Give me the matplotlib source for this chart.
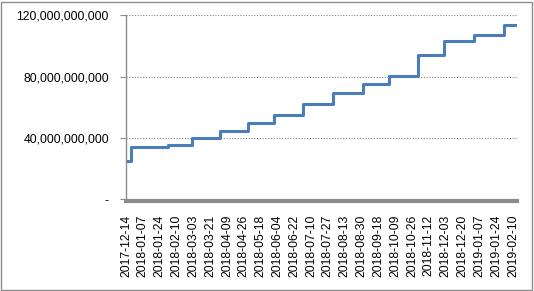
import numpy as np
import matplotlib
matplotlib.use("Agg")
import matplotlib.pyplot as plt
from matplotlib.patches import Rectangle
from matplotlib.ticker import FuncFormatter

# tick labels of the category axis
labels = ["2017-12-14", "2018-01-07", "2018-01-24", "2018-02-10", "2018-03-03",
          "2018-03-21", "2018-04-09", "2018-04-26", "2018-05-18", "2018-06-04",
          "2018-06-22", "2018-07-10", "2018-07-27", "2018-08-13", "2018-08-30",
          "2018-09-18", "2018-10-09", "2018-10-26", "2018-11-12", "2018-12-03",
          "2018-12-20", "2019-01-07", "2019-01-24", "2019-02-10"]

# dates where the value changes, and the value from that date on
step_dates = ["2017-12-14", "2017-12-21", "2018-02-01", "2018-03-01", "2018-04-01",
              "2018-05-01", "2018-06-01", "2018-07-01", "2018-08-01", "2018-09-01",
              "2018-10-01", "2018-11-01", "2018-12-01", "2019-01-01", "2019-02-01",
              "2019-02-14"]
step_values = [25.2e9, 34.3e9, 35.2e9, 40.2e9, 44.6e9,
               49.6e9, 55.0e9, 62.0e9, 69.4e9, 75.2e9,
               80.7e9, 94.2e9, 103.3e9, 107.4e9, 113.7e9,
               113.7e9]

# map dates to category positions (labels are evenly spaced)
lab_d = np.array(labels, dtype="datetime64[D]").astype(float)
d = np.array(step_dates, dtype="datetime64[D]").astype(float)
idx = np.arange(len(labels))
x = np.interp(d, lab_d, idx)
last_gap = lab_d[-1] - lab_d[-2]
x = np.where(d > lab_d[-1], idx[-1] + (d - lab_d[-1]) / last_gap, x)

plt.rcParams["font.family"] = ["Liberation Sans", "DejaVu Sans"]
plt.rcParams["font.size"] = 8.7

fig = plt.figure(figsize=(5.34, 2.91), dpi=100)
ax = fig.add_axes([0.236, 0.315, 0.732, 0.632])

# spines first: set_position resets the ticks
for s in ["top", "right"]:
    ax.spines[s].set_visible(False)
ax.spines["left"].set_color("#8c8c8c")
ax.spines["left"].set_linewidth(1)
ax.spines["bottom"].set_color("#8c8c8c")
ax.spines["bottom"].set_linewidth(3)
ax.spines["bottom"].set_position(("outward", 1.5))

ax.step(x, step_values, where="post", color="#4a7ebb", lw=2.2)

ax.set_xlim(0, x[-1])
ax.set_ylim(0, 120e9)
ax.set_yticks([0, 40e9, 80e9, 120e9])
ax.yaxis.set_major_formatter(FuncFormatter(lambda v, p: "-" if v == 0 else f"{v:,.0f}"))
ax.set_xticks(idx)
ax.set_xticklabels(labels)

ax.grid(axis="y", linestyle=(0, (1, 1.5)), color="#808080", lw=0.8)
ax.set_axisbelow(True)
ax.tick_params(axis="y", length=4.3, color="#8c8c8c", pad=8)
ax.tick_params(axis="x", length=0, pad=9.5, labelrotation=90)

fig.patches.append(Rectangle((0.002, 0.004), 0.994, 0.99, transform=fig.transFigure,
                             fill=False, edgecolor="#8c8c8c", lw=1))

fig.savefig("out.png", dpi=100)
